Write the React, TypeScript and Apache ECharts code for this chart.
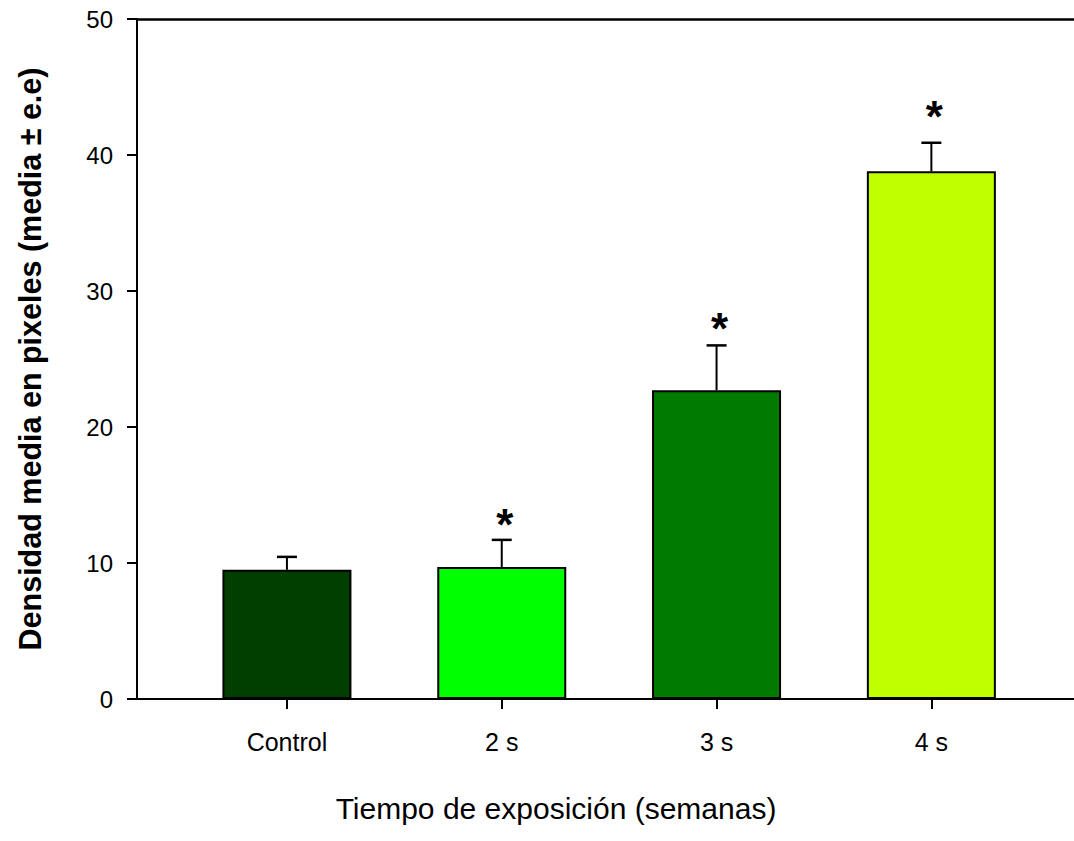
import React, { useEffect, useRef } from "react";
import * as echarts from "echarts";

const categories = ["Control", "2 s", "3 s", "4 s"];
const positions = [1, 2, 3, 4];
const means = [9.5, 9.7, 22.7, 38.8];
const errors = [0.95, 2.0, 3.3, 2.1];
const starHeights: (number | null)[] = [null, 13.3, 27.7, 43.3];
const barColors = ["#003f00", "#00ff00", "#007a00", "#c0ff00"];
const yTicks = [0, 10, 20, 30, 40, 50];

export default function App() {
  const ref = useRef<HTMLDivElement>(null);
  useEffect(() => {
    if (!ref.current) return;
    const chart = echarts.init(ref.current, null, { renderer: "svg" });
    const font = "'Liberation Sans', Arial, sans-serif";
    const xMin = 0.302;
    const xMax = 4.664;
    chart.setOption({
      animation: false,
      backgroundColor: "#ffffff",
      grid: { left: 137, top: 19, right: 0, height: 680, containLabel: false },
      xAxis: [
        {
          type: "value",
          min: xMin,
          max: xMax,
          position: "bottom",
          axisLine: { show: true, lineStyle: { color: "#000", width: 2 } },
          axisTick: {
            show: true,
            customValues: positions,
            length: 10,
            inside: false,
            lineStyle: { color: "#000", width: 2 },
          },
          axisLabel: {
            show: true,
            customValues: positions,
            formatter: (v: number) => categories[Math.round(v) - 1] ?? "",
            color: "#000",
            fontFamily: font,
            fontSize: 25,
            margin: 30,
          },
          splitLine: { show: false },
        },
        {
          type: "value",
          min: xMin,
          max: xMax,
          position: "top",
          axisLine: { show: true, onZero: false, lineStyle: { color: "#000", width: 2.5 } },
          axisTick: { show: false },
          axisLabel: { show: false },
          splitLine: { show: false },
        },
      ],
      yAxis: {
        type: "value",
        min: yTicks[0],
        max: yTicks[yTicks.length - 1],
        interval: 10,
        axisLine: { show: true, lineStyle: { color: "#000", width: 2 } },
        axisTick: { show: true, length: 10, inside: false, lineStyle: { color: "#000", width: 2 } },
        axisLabel: { color: "#000", fontFamily: font, fontSize: 24, margin: 24 },
        splitLine: { show: false },
      },
      series: [
        {
          type: "bar",
          xAxisIndex: 0,
          barWidth: 129,
          data: positions.map((p, i) => ({
            value: [p, means[i]],
            itemStyle: { color: barColors[i], borderColor: "#000", borderWidth: 2 },
          })),
          z: 2,
        },
        {
          type: "custom",
          xAxisIndex: 0,
          z: 3,
          data: positions.map((p, i) => [p, means[i], errors[i], starHeights[i] ?? -1]),
          renderItem: (params: any, api: any) => {
            const x = api.value(0);
            const m = api.value(1);
            const e = api.value(2);
            const s = api.value(3);
            const base = api.coord([x, m]);
            const top = api.coord([x, m + e]);
            const half = 10;
            const children: any[] = [
              {
                type: "line",
                shape: { x1: base[0], y1: base[1], x2: top[0], y2: top[1] },
                style: { stroke: "#000", lineWidth: 2 },
              },
              {
                type: "line",
                shape: { x1: top[0] - half, y1: top[1], x2: top[0] + half, y2: top[1] },
                style: { stroke: "#000", lineWidth: 2.5 },
              },
            ];
            if (s >= 0) {
              const sp = api.coord([x, s]);
              children.push({
                type: "text",
                x: sp[0] + 3,
                y: sp[1] + 6,
                style: {
                  text: "*",
                  fill: "#000",
                  font: `bold 44px ${font}`,
                  align: "center",
                  verticalAlign: "middle",
                },
              });
            }
            return { type: "group", children };
          },
        },
      ],
      graphic: [
        {
          type: "text",
          x: 30,
          y: 359,
          rotation: Math.PI / 2,
          style: {
            text: "Densidad media en pixeles (media ± e.e)",
            fill: "#000",
            font: `bold 30.5px ${font}`,
            align: "center",
            verticalAlign: "middle",
          },
        },
        {
          type: "text",
          x: 556,
          y: 808,
          style: {
            text: "Tiempo de exposición (semanas)",
            fill: "#000",
            font: `30px ${font}`,
            align: "center",
            verticalAlign: "middle",
          },
        },
      ],
    });
    return () => chart.dispose();
  }, []);
  return (
    <div
      ref={ref}
      style={{ position: "fixed", left: 0, top: 0, width: 1074, height: 841, background: "#fff" }}
    />
  );
}
